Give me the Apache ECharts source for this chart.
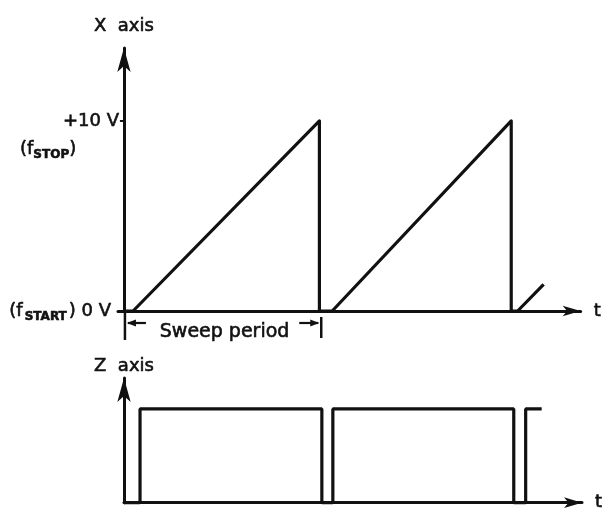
<!DOCTYPE html>
<html>
<head>
<meta charset="utf-8">
<script src="https://cdn.jsdelivr.net/npm/echarts@6/dist/echarts.min.js"></script>
<style>html,body{margin:0;padding:0;background:#fff;}#c{width:604px;height:512px;}</style>
</head>
<body>
<div id="c"></div>
<script>
// ---- data (time in arbitrary units, sweep period ≈ 43) ----
const sawTime  = [0, 2, 42.8, 42.8, 45.6, 84.8, 84.8, 86.2, 91.9];
const sawVolts = [0, 0, 10,   0,    0,    10,   0,    0,    1.4];
const zTime  = [0, 3.5, 3.5, 43.2, 43.2, 45.6, 45.6, 85.1, 85.1, 87.7, 87.7, 91.2];
const zLevel = [0, 0,   1,   1,    0,    0,    1,    1,    0,    0,    1,    1];
const sweepStart = 0, sweepEnd = 43.2;

const INK = '#111';
const FONT = 'DejaVu Sans';
const chart = echarts.init(document.getElementById('c'), null, {renderer: 'canvas'});

const thick = {textBorderColor: INK, textBorderWidth: 0.6};
const richSet = {
  n: Object.assign({fontSize: 18, fontFamily: FONT, color: INK, lineHeight: 26, verticalAlign: 'middle', padding: [0, 1, 0, 0]}, thick),
  s: Object.assign({fontSize: 12, fontFamily: FONT, fontWeight: 'bold', color: INK, lineHeight: 26, verticalAlign: 'bottom', padding: [0, 2, 1, 1]}, thick),
  g: Object.assign({fontSize: 18, fontFamily: FONT, color: INK, lineHeight: 26, verticalAlign: 'middle', padding: [0, 9, 0, 0]}, thick)
};
// same styles for a raw graphic text element (zrender property names)
const richRaw = {
  n: {fontSize: 18, fontFamily: FONT, fill: INK, stroke: INK, lineWidth: 0.6, lineHeight: 26, verticalAlign: 'middle'},
  s: {fontSize: 12, fontFamily: FONT, fontWeight: 'bold', fill: INK, stroke: INK, lineWidth: 0.6, lineHeight: 26, verticalAlign: 'bottom', padding: [0, 0, 1, 0]}
};
const nameStyle = Object.assign({fontSize: 18, fontFamily: FONT, color: INK}, thick);

const xArrow = {show: true, symbol: ['none', 'arrow'], symbolSize: [8, 18], lineStyle: {color: INK, width: 3}};
const yArrow = {show: true, onZero: true, symbol: ['none', 'arrow'], symbolSize: [10, 24], lineStyle: {color: INK, width: 3}};

const option = {
  animation: false,
  backgroundColor: '#fff',
  grid: [
    {left: 118, top: 48, right: 22, height: 263},
    {left: 124, top: 378, right: 22, height: 129}
  ],
  xAxis: [
    {
      type: 'value', gridIndex: 0, min: -1.3, max: 100,
      splitLine: {show: false}, axisTick: {show: false}, axisLabel: {show: false},
      axisLine: xArrow,
      name: 't', nameLocation: 'end', nameGap: 13, nameTextStyle: nameStyle
    },
    {
      type: 'value', gridIndex: 1, min: 0, max: 100,
      splitLine: {show: false}, axisTick: {show: false}, axisLabel: {show: false},
      axisLine: xArrow,
      name: 't', nameLocation: 'end', nameGap: 13, nameTextStyle: nameStyle
    }
  ],
  yAxis: [
    {
      type: 'value', gridIndex: 0, min: 0, max: 13.84, interval: 10,
      splitLine: {show: false},
      axisLine: yArrow,
      axisTick: {show: false},
      axisLabel: {
        show: true, margin: -2,
        formatter: function (v) {
          if (v === 10) return '{n|+10 V}';
          if (v === 0) return '{n|(f}{s|START}{g|) 0 V}';
          return '';
        },
        rich: richSet
      },
      name: 'X  axis', nameLocation: 'end', nameGap: 13, nameTextStyle: nameStyle
    },
    {
      type: 'value', gridIndex: 1, min: 0, max: 1.33,
      splitLine: {show: false},
      axisLine: yArrow,
      axisTick: {show: false},
      axisLabel: {show: false},
      name: 'Z  axis', nameLocation: 'end', nameGap: 3, nameTextStyle: nameStyle
    }
  ],
  series: [
    {
      type: 'line', xAxisIndex: 0, yAxisIndex: 0, symbol: 'none', clip: false,
      lineStyle: {color: INK, width: 3.2, join: 'round'},
      data: sawTime.map((t, i) => [t, sawVolts[i]])
    },
    {
      type: 'line', xAxisIndex: 1, yAxisIndex: 1, symbol: 'none', clip: false,
      lineStyle: {color: INK, width: 3.2},
      data: zTime.map((t, i) => [t, zLevel[i]])
    }
  ]
};
chart.setOption(option);

// ---- annotations placed through the axes' scales ----
const p0 = chart.convertToPixel({gridIndex: 0}, [sweepStart, 0]);
const p1 = chart.convertToPixel({gridIndex: 0}, [sweepEnd, 0]);
const p10 = chart.convertToPixel({gridIndex: 0}, [0, 10]);
const yA = p0[1] + 12;
const lw = 2.5;
chart.setOption({
  graphic: [
    {type: 'line', shape: {x1: p0[0] + 1, y1: p0[1], x2: p0[0] + 1, y2: p0[1] + 29}, style: {stroke: INK, lineWidth: lw}},
    {type: 'line', shape: {x1: p1[0], y1: p0[1] + 6, x2: p1[0], y2: p0[1] + 27}, style: {stroke: INK, lineWidth: lw}},
    {type: 'line', shape: {x1: p0[0] + 4, y1: yA, x2: p0[0] + 22, y2: yA}, style: {stroke: INK, lineWidth: 2.2}},
    {type: 'polygon', shape: {points: [[p0[0] + 3, yA], [p0[0] + 12, yA - 3.5], [p0[0] + 12, yA + 3.5]]}, style: {fill: INK}},
    {type: 'line', shape: {x1: p1[0] - 22, y1: yA, x2: p1[0] - 3, y2: yA}, style: {stroke: INK, lineWidth: 2.2}},
    {type: 'polygon', shape: {points: [[p1[0] - 2, yA], [p1[0] - 11, yA - 3.5], [p1[0] - 11, yA + 3.5]]}, style: {fill: INK}},
    {type: 'text', x: (p0[0] + p1[0]) / 2 + 2, y: yA + 9,
      style: {text: 'Sweep period', fontSize: 19, fontFamily: FONT, fill: INK, stroke: INK, lineWidth: 0.6, align: 'center', verticalAlign: 'middle'}},
    {type: 'text', x: 20, y: p10[1] + 28,
      style: {text: '{n|(f}{s|STOP}{n|)}', rich: richRaw, align: 'left', verticalAlign: 'middle'}},
    {type: 'line', shape: {x1: p10[0] - 4, y1: p10[1], x2: p10[0], y2: p10[1]}, style: {stroke: INK, lineWidth: 2}}
  ]
});
</script>
</body>
</html>
